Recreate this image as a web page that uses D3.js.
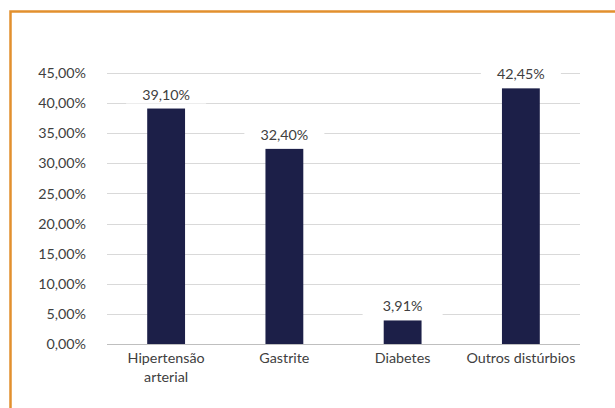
<!DOCTYPE html>
<html><head><meta charset="utf-8">
<script src="https://cdn.jsdelivr.net/npm/d3@7"></script>
<style>html,body{margin:0;padding:0;background:#fff;}svg{display:block;}</style>
</head><body>
<script>
const categories = [["Hipertensão","arterial"],["Gastrite"],["Diabetes"],["Outros distúrbios"]];
const values = [39.10, 32.40, 3.91, 42.45];
const valueLabels = ["39,10%","32,40%","3,91%","42,45%"];
const yTicks = [0,5,10,15,20,25,30,35,40,45];
const yTickLabels = ["0,00%","5,00%","10,00%","15,00%","20,00%","25,00%","30,00%","35,00%","40,00%","45,00%"];

(function(){
const W=615,H=408;
const svg=d3.select("body").append("svg").attr("width",W).attr("height",H);
svg.append("rect").attr("width",W).attr("height",H).attr("fill","#fff");
// orange frame (top and left)
svg.append("path").attr("d","M10.5,"+H+" V11.5 H"+W).attr("fill","none").attr("stroke","#E2902E").attr("stroke-width",2.5);

const pl=107,pr=580,pt=73,pb=344;
const x=d3.scaleBand().domain(d3.range(categories.length)).range([pl,pr]).paddingInner(0.68).paddingOuter(0.34);
const y=d3.scaleLinear().domain([0,45]).range([pb,pt]);
const font="Lato, 'Open Sans', sans-serif";
const fs=14.3;
const txt="#404040";

svg.append("g").selectAll("line").data(yTicks.filter(d=>d>0)).join("line")
 .attr("x1",pl).attr("x2",pr).attr("y1",d=>Math.round(y(d))+0.5).attr("y2",d=>Math.round(y(d))+0.5)
 .attr("stroke","#d9d9d9").attr("stroke-width",1);

const yAxis=d3.axisLeft(y).tickValues(yTicks).tickFormat((d,i)=>yTickLabels[i]).tickSize(0).tickPadding(21);
const ya=svg.append("g").attr("transform",`translate(${pl},0)`).call(yAxis);
ya.select(".domain").remove();
ya.selectAll("text").attr("font-family",font).attr("font-size",fs).attr("fill",txt);

// bars
svg.selectAll("rect.bar").data(values).join("rect").attr("class","bar")
 .attr("x",(d,i)=>x(i)).attr("width",x.bandwidth())
 .attr("y",d=>y(d)).attr("height",d=>pb-y(d)).attr("fill","#1c1f48");

// baseline
svg.append("line").attr("x1",pl).attr("x2",pr).attr("y1",pb+0.5).attr("y2",pb+0.5).attr("stroke","#bfbfbf");

// value labels with white background
const lab=svg.selectAll("g.lab").data(values).join("g").attr("class","lab")
 .attr("transform",(d,i)=>`translate(${x(i)+x.bandwidth()/2},${y(d)-14})`);
lab.append("rect").attr("x",-40).attr("y",-9).attr("width",80).attr("height",18).attr("fill","#fff");
lab.append("text").text((d,i)=>valueLabels[i]).attr("text-anchor","middle").attr("dy","0.35em")
 .attr("font-family",font).attr("font-size",fs).attr("fill",txt);

// category labels
const xa=svg.selectAll("text.cat").data(categories).join("text").attr("class","cat")
 .attr("x",(d,i)=>x(i)+x.bandwidth()/2).attr("y",pb+19)
 .attr("text-anchor","middle").attr("font-family",font).attr("font-size",fs).attr("fill",txt);
xa.selectAll("tspan").data(d=>d).join("tspan").attr("x",function(){return this.parentNode.getAttribute("x");})
 .attr("dy",(d,i)=>i===0?0:"1.3em").text(d=>d);
})();
</script>
</body></html>
